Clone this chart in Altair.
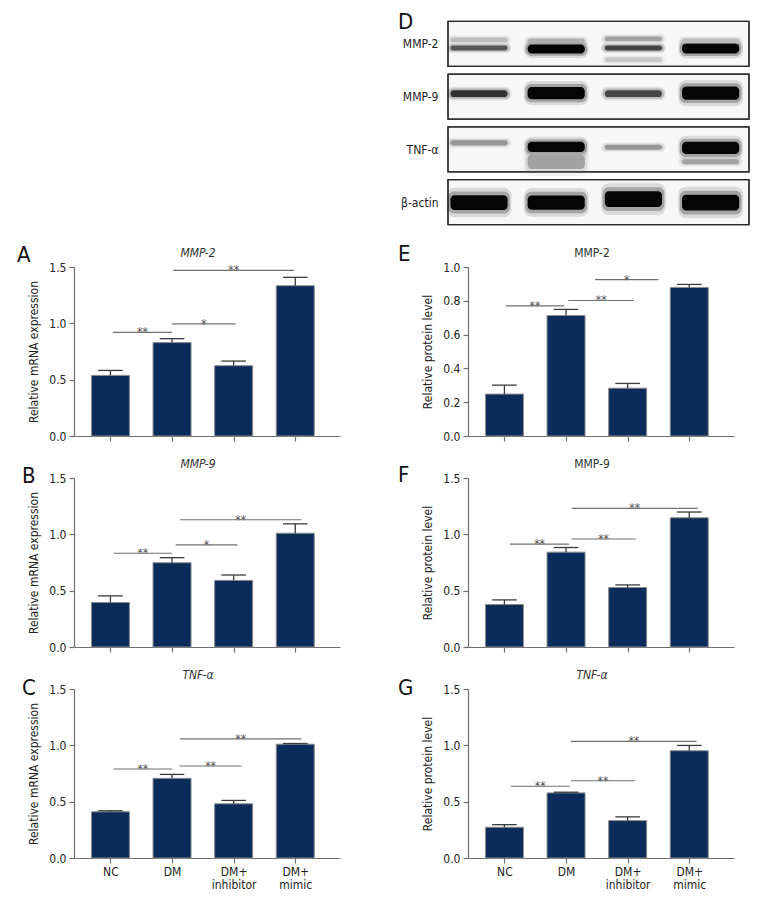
import json
import altair as alt
import pandas as pd

FONT = "'Liberation Sans Narrow', 'DejaVu Sans Condensed', 'Open Sans', sans-serif"
BAR = "#0b2c5b"
AX = "#6e6e6e"
TXT = "#222222"

groups = ["NC", "DM", "DM+|inhibitor", "DM+|mimic"]
group_index = [0, 1, 2, 3]

# ---- Panel A: MMP-2 mRNA
a_mean = [0.538, 0.829, 0.624, 1.334]
a_sem = [0.044, 0.035, 0.041, 0.074]
a_sig_start = [0.04, 1.0, 1.02]
a_sig_end = [1.0, 2.03, 2.98]
a_sig_y = [0.92, 0.995, 1.47]
a_sig_label = ["**", "*", "**"]

# ---- Panel B: MMP-9 mRNA
b_mean = [0.395, 0.748, 0.591, 1.010]
b_sem = [0.059, 0.045, 0.048, 0.083]
b_sig_start = [0.05, 1.06, 1.13]
b_sig_end = [1.0, 2.06, 3.1]
b_sig_y = [0.832, 0.906, 1.129]
b_sig_label = ["**", "*", "**"]

# ---- Panel C: TNF-a mRNA
c_mean = [0.410, 0.707, 0.481, 1.010]
c_sem = [0.009, 0.035, 0.030, 0.006]
c_sig_start = [0.05, 1.12, 1.13]
c_sig_end = [1.0, 2.13, 3.1]
c_sig_y = [0.79, 0.817, 1.057]
c_sig_label = ["**", "**", "**"]

# ---- Panel E: MMP-2 protein
e_mean = [0.248, 0.713, 0.283, 0.879]
e_sem = [0.053, 0.036, 0.028, 0.018]
e_sig_start = [0.02, 1.04, 1.47]
e_sig_end = [0.97, 2.1, 2.5]
e_sig_y = [0.770, 0.802, 0.925]
e_sig_label = ["**", "**", "*"]

# ---- Panel F: MMP-9 protein
f_mean = [0.377, 0.842, 0.528, 1.147]
f_sem = [0.041, 0.041, 0.023, 0.051]
f_sig_start = [0.09, 1.09, 1.09]
f_sig_end = [1.05, 2.13, 3.14]
f_sig_y = [0.913, 0.958, 1.23]
f_sig_label = ["**", "**", "**"]

# ---- Panel G: TNF-a protein
g_mean = [0.273, 0.578, 0.332, 0.952]
g_sem = [0.023, 0.006, 0.033, 0.047]
g_sig_start = [0.1, 1.08, 1.08]
g_sig_end = [1.06, 2.12, 3.12]
g_sig_y = [0.637, 0.685, 1.035]
g_sig_label = ["**", "**", "**"]

# ---- Panel D: western blot (band densities)
blot_proteins = ["MMP-2", "MMP-9", "TNF-α", "β-actin"]
band_row = [0, 0, 0, 0, 0, 0, 0, 0, 0,
            1, 1, 1, 1,
            2, 2, 2, 2, 2, 2,
            3, 3, 3, 3]
band_lane = [0, 1, 2, 3, 0, 1, 2, 2, 3,
             0, 1, 2, 3,
             0, 1, 1, 2, 3, 3,
             0, 1, 2, 3]
band_intensity = [0.62, 1.0, 0.72, 1.0, 0.2, 0.25, 0.3, 0.15, 0.2,
                  0.8, 1.0, 0.7, 1.0,
                  0.35, 1.0, 0.3, 0.35, 1.0, 0.3,
                  1.0, 1.0, 1.0, 1.0]
band_offset = [0.076, 0.095, 0.076, 0.085, -0.076, -0.057, -0.095, 0.30, -0.057,
               -0.057, -0.066, -0.057, -0.066,
               -0.123, -0.047, 0.237, -0.038, -0.028, 0.237,
               0.009, 0.009, -0.057, 0.009]
band_thick = [0.095, 0.17, 0.095, 0.19, 0.09, 0.09, 0.09, 0.09, 0.09,
              0.13, 0.23, 0.13, 0.25,
              0.095, 0.19, 0.27, 0.095, 0.23, 0.095,
              0.28, 0.27, 0.30, 0.30]

PANEL_W = 266
PANEL_H = 169
X_DOMAIN = [-0.51, 3.645]

label_expr = "split(" + json.dumps(groups) + "[datum.value], '|')"


def panel(letter, letter_dx, letter_dy, title, italic, means, sems,
          s_start, s_end, s_y, s_label, ytitle, ymax, ystep, bottom):
    bars = pd.DataFrame({"i": group_index, "m": means, "e": sems})
    sig = pd.DataFrame({"s": s_start, "t": s_end, "y": s_y, "lab": s_label})
    xs = alt.Scale(domain=X_DOMAIN, nice=False, zero=False)
    ys = alt.Scale(domain=[0, ymax], nice=False)
    xaxis = alt.Axis(values=group_index, labelExpr=label_expr, labels=bottom,
                     title=None, grid=False, tickSize=5, domainColor=AX,
                     tickColor=AX, domainWidth=1.2, tickWidth=1.2,
                     labelFont=FONT, labelFontSize=12, labelColor=TXT,
                     labelPadding=3, labelLineHeight=13, labelAngle=0)
    n = int(round(ymax / ystep))
    yvals = [round(k * ystep, 2) for k in range(n + 1)]
    yaxis = alt.Axis(values=yvals, format=".1f", title=ytitle, grid=False,
                     tickSize=5, domainColor=AX, tickColor=AX, domainWidth=1.2,
                     tickWidth=1.2, labelFont=FONT, labelFontSize=12,
                     labelColor=TXT, labelPadding=3, titleFont=FONT,
                     titleFontSize=12, titleFontWeight="normal",
                     titleColor=TXT, titlePadding=8)
    X = lambda f: alt.X(f, scale=xs, axis=xaxis)
    Y = lambda f: alt.Y(f, scale=ys, axis=yaxis)

    base = alt.Chart(bars)
    b = base.mark_bar(width=38, color=BAR, stroke="#8c8c8c",
                      strokeWidth=1).encode(x=X("i:Q"), y=Y("m:Q"))
    err = base.transform_calculate(top="datum.m + datum.e").mark_rule(
        color="#3a3a3a", strokeWidth=1.3).encode(
        x=X("i:Q"), y=Y("m:Q"), y2="top:Q")
    cap = base.transform_calculate(
        top="datum.m + datum.e", c0="datum.i - 0.2", c1="datum.i + 0.2"
    ).mark_rule(color="#3a3a3a", strokeWidth=1.3).encode(
        x=X("c0:Q"), x2="c1:Q", y=Y("top:Q"))
    sl = alt.Chart(sig).mark_rule(color="#707070", strokeWidth=1.1).encode(
        x=X("s:Q"), x2="t:Q", y=Y("y:Q"))
    st = alt.Chart(sig).transform_calculate(mid="(datum.s + datum.t) / 2").mark_text(
        font=FONT, fontSize=12, color="#555555", baseline="alphabetic", dy=4
    ).encode(x=X("mid:Q"), y=Y("y:Q"), text="lab:N")
    labels = pd.DataFrame({"letter": [letter], "gene": [title]})
    let = alt.Chart(labels).mark_text(
        font=FONT, fontSize=22, align="left", baseline="alphabetic",
        color="#111111").encode(
        x=alt.value(letter_dx), y=alt.value(letter_dy), text="letter:N")
    ttl = alt.Chart(labels).mark_text(
        font=FONT, fontSize=12, align="center", baseline="alphabetic",
        fontStyle="italic" if italic else "normal", color="#333333").encode(
        x=alt.value(PANEL_W / 2 - 9), y=alt.value(-10), text="gene:N")
    return alt.layer(b, err, cap, sl, st, let, ttl).properties(
        width=PANEL_W, height=PANEL_H)


def blot():
    bands = pd.DataFrame({"row": band_row, "lane": band_lane,
                          "intensity": band_intensity, "off": band_offset,
                          "th": band_thick})
    frames = pd.DataFrame({"row": [0, 1, 2, 3]})
    xs = alt.Scale(domain=[-0.1425, 3.497], nice=False, zero=False)
    ys = alt.Scale(domain=[-0.435, 3.435], nice=False, zero=False, reverse=True)
    yaxis = alt.Axis(values=[0, 1, 2, 3],
                     labelExpr=json.dumps(blot_proteins) + "[datum.value]",
                     title=None, domain=False, ticks=False, grid=False,
                     labelPadding=30, labelFont=FONT, labelFontSize=12,
                     labelColor=TXT)
    col = alt.Color("intensity:Q", scale=alt.Scale(domain=[0, 1],
                    range=["#f0f0f0", "#050505"]), legend=None)
    fr = alt.Chart(frames).transform_calculate(
        y0="datum.row - 0.426", y1="datum.row + 0.426")
    frame_fill = fr.mark_rect(fill="#f7f7f7", stroke="#2a2a2a",
                              strokeWidth=1.2).encode(
        x=alt.value(-20), x2=alt.value("width"),
        y=alt.Y("y0:Q", scale=ys, axis=yaxis), y2="y1:Q")

    def band_layer(wide, k, opacity, radius):
        return alt.Chart(bands).transform_calculate(
            x0=f"datum.lane - {wide}", x1=f"datum.lane + {wide}",
            y0=f"datum.row + datum.off - datum.th * {k}",
            y1=f"datum.row + datum.off + datum.th * {k}").mark_rect(
            opacity=opacity, cornerRadius=radius).encode(
            x=alt.X("x0:Q", scale=xs, axis=None), x2="x1:Q",
            y=alt.Y("y0:Q", scale=ys, axis=yaxis), y2="y1:Q", color=col)

    halo1 = band_layer(0.42, 1.0, 0.12, 8)
    halo2 = band_layer(0.40, 0.75, 0.25, 6)
    core = band_layer(0.37, 0.5, 1.0, 4)
    outline = fr.mark_rect(fill=None, stroke="#2a2a2a", strokeWidth=1.3).encode(
        x=alt.value(-20), x2=alt.value("width"),
        y=alt.Y("y0:Q", scale=ys, axis=yaxis), y2="y1:Q")
    let = alt.Chart(pd.DataFrame({"t": ["D"]})).mark_text(
        font=FONT, fontSize=22, align="left", baseline="alphabetic",
        color="#111111").encode(x=alt.value(-70), y=alt.value(8), text="t:N")
    return alt.layer(frame_fill, halo1, halo2, core, outline, let).properties(
        width=281, height=204)


spacer = alt.Chart(pd.DataFrame({"v": [0]})).mark_point(opacity=0).encode(
    x=alt.X("v:Q", axis=None), y=alt.Y("v:Q", axis=None)).properties(
    width=246, height=204)

mrna = "Relative mRNA expression"
prot = "Relative protein level"

pA = panel("A", -57, -5, "MMP-2", True, a_mean, a_sem, a_sig_start, a_sig_end,
           a_sig_y, a_sig_label, mrna, 1.5, 0.5, False)
pB = panel("B", -52, 5, "MMP-9", True, b_mean, b_sem, b_sig_start, b_sig_end,
           b_sig_y, b_sig_label, mrna, 1.5, 0.5, False)
pC = panel("C", -52, 6, "TNF-α", True, c_mean, c_sem, c_sig_start, c_sig_end,
           c_sig_y, c_sig_label, mrna, 1.5, 0.5, True)
pE = panel("E", -70, -6, "MMP-2", False, e_mean, e_sem, e_sig_start, e_sig_end,
           e_sig_y, e_sig_label, prot, 1.0, 0.2, False)
pF = panel("F", -70, 4, "MMP-9", False, f_mean, f_sem, f_sig_start, f_sig_end,
           f_sig_y, f_sig_label, prot, 1.5, 0.5, False)
pG = panel("G", -70, 6, "TNF-α", True, g_mean, g_sem, g_sig_start, g_sig_end,
           g_sig_y, g_sig_label, prot, 1.5, 0.5, True)

chart = alt.concat(spacer, blot(), pA, pE, pB, pF, pC, pG, columns=2,
                   bounds="flush",
                   spacing={"row": 42, "column": 128}).properties(
    padding={"left": 9, "top": 3, "right": 5, "bottom": 5}
).configure_view(stroke=None)

chart.save("out.html", embed_options={"renderer": "svg", "actions": False})
